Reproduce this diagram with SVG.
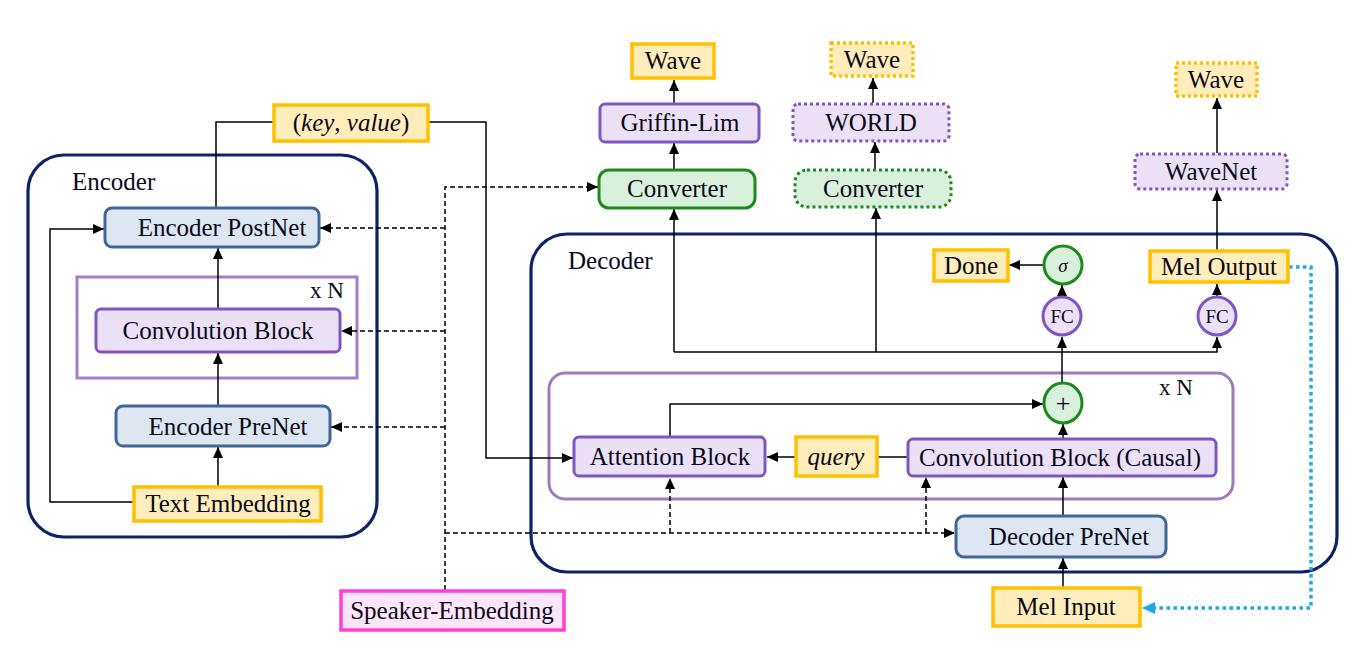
<svg xmlns="http://www.w3.org/2000/svg" width="1367" height="655" viewBox="0 0 1367 655" font-family="'Liberation Serif', 'Times New Roman', serif">
<defs>
<style>
text{font-family:'Liberation Serif','Times New Roman',serif;font-size:25px;fill:#0a0a1a}
.c{text-anchor:middle}
.it{font-style:italic}
.frame{fill:none;stroke:#0b2465;stroke-width:3.2}
.rep{fill:none;stroke:#a47fca;stroke-width:3}
.blue{fill:#dde6f1;stroke:#41679a;stroke-width:3}
.purp{fill:#ebe0f5;stroke:#7f57c1;stroke-width:3}
.org{fill:#ffeebb;stroke:#ffc000;stroke-width:3.5}
.grn{fill:#d9f1dc;stroke:#1e8a1e;stroke-width:3}
.mag{fill:#fde6f9;stroke:#ff3fd8;stroke-width:3.5}
.dot{stroke-dasharray:3 3}
.ln{fill:none;stroke:#000;stroke-width:1.5}
.dash{fill:none;stroke:#000;stroke-width:1.5;stroke-dasharray:5 3}
.bl{fill:none;stroke:#1fa8ef;stroke-width:3.5;stroke-dasharray:3.5 3.5}
</style>
<marker id="a" markerUnits="userSpaceOnUse" markerWidth="12" markerHeight="10" refX="11" refY="5" orient="auto">
<path d="M0,0 L11,5 L0,10 z" fill="#000"/>
</marker>
<marker id="b" markerUnits="userSpaceOnUse" markerWidth="14" markerHeight="12" refX="13" refY="6" orient="auto">
<path d="M0,0 L13,6 L0,12 z" fill="#1fa8ef"/>
</marker>
</defs>

<g id="encoder">
<rect class="frame" x="28" y="155" width="349" height="382" rx="36"/>
<text x="72" y="190">Encoder</text>
</g>
<g id="encoder-repeat">
<rect class="rep" x="77" y="277" width="280" height="101"/>
<text x="310" y="298" style="font-size:23px">x N</text>
</g>
<g id="decoder">
<rect class="frame" x="531" y="234" width="806" height="338" rx="36"/>
<text x="568" y="269">Decoder</text>
</g>
<g id="decoder-repeat">
<rect class="rep" x="549" y="373" width="684" height="126" rx="16" style="stroke:#9d7bbf"/>
<text x="1159" y="395" style="font-size:23px">x N</text>
</g>

<g id="connectors">
<path class="ln" d="M218,486 V447" marker-end="url(#a)"/>
<path class="ln" d="M218,406 V353" marker-end="url(#a)"/>
<path class="ln" d="M218,309 V248" marker-end="url(#a)"/>
<path class="ln" d="M133,502 H50 V229 H104" marker-end="url(#a)"/>
<path class="ln" d="M216,208 V122 H273"/>
<path class="ln" d="M428,122 H486 V458 H573" marker-end="url(#a)"/>
<path class="dash" d="M445,590 V187 H598" marker-end="url(#a)"/>
<path class="dash" d="M445,228 H320" marker-end="url(#a)"/>
<path class="dash" d="M445,331 H341" marker-end="url(#a)"/>
<path class="dash" d="M445,427 H331" marker-end="url(#a)"/>
<path class="dash" d="M445,533 H955" marker-end="url(#a)"/>
<path class="dash" d="M670,533 V478" marker-end="url(#a)"/>
<path class="dash" d="M926,533 V477" marker-end="url(#a)"/>
<path class="ln" d="M674,170 V143" marker-end="url(#a)"/>
<path class="ln" d="M674,104 V80" marker-end="url(#a)"/>
<path class="ln" d="M875,170 V142" marker-end="url(#a)"/>
<path class="ln" d="M873,103 V78" marker-end="url(#a)"/>
<path class="ln" d="M1217,250 V190" marker-end="url(#a)"/>
<path class="ln" d="M1217,153 V98" marker-end="url(#a)"/>
<path class="ln" d="M674,352 V209" marker-end="url(#a)"/>
<path class="ln" d="M876,352 V208" marker-end="url(#a)"/>
<path class="ln" d="M674,352 H1217 V337" marker-end="url(#a)"/>
<path class="ln" d="M1062,383 V337" marker-end="url(#a)"/>
<path class="ln" d="M1062,296 V285" marker-end="url(#a)"/>
<path class="ln" d="M1044,265 H1009" marker-end="url(#a)"/>
<path class="ln" d="M1217,296 V284" marker-end="url(#a)"/>
<path class="ln" d="M1063,587 V558" marker-end="url(#a)"/>
<path class="ln" d="M1063,516 V477" marker-end="url(#a)"/>
<path class="ln" d="M1063,438 V424" marker-end="url(#a)"/>
<path class="ln" d="M670,437 V404 H1043" marker-end="url(#a)"/>
<path class="ln" d="M908,457 H878"/>
<path class="ln" d="M795,457 H767" marker-end="url(#a)"/>
<path class="bl" d="M1289,267 H1311 V608 H1142" marker-end="url(#b)"/>
</g>

<g id="encoder-postnet"><rect class="blue" x="105" y="208" width="214" height="39" rx="7"/><text class="c" x="222" y="236">Encoder PostNet</text></g>
<g id="convolution-block"><rect class="purp" x="96" y="309" width="244" height="43" rx="5"/><text class="c" x="218" y="339">Convolution Block</text></g>
<g id="encoder-prenet"><rect class="blue" x="116" y="406" width="214" height="40" rx="7"/><text class="c" x="228" y="435">Encoder PreNet</text></g>
<g id="text-embedding"><rect class="org" x="134" y="487" width="187" height="34"/><text class="c" x="228" y="512">Text Embedding</text></g>
<g id="key-value"><rect class="org" x="274" y="105" width="154" height="36"/><text class="c" x="351" y="131">(<tspan class="it">key</tspan>, <tspan class="it">value</tspan>)</text></g>
<g id="speaker-embedding"><rect class="mag" x="341" y="591" width="223" height="39"/><text class="c" x="452" y="619">Speaker-Embedding</text></g>

<g id="wave-1"><rect class="org" x="632" y="44" width="82" height="34"/><text class="c" x="673" y="69">Wave</text></g>
<g id="griffin-lim"><rect class="purp" x="600" y="104" width="159" height="38" rx="5"/><text class="c" x="680" y="131">Griffin-Lim</text></g>
<g id="converter-1"><rect class="grn" x="599" y="170" width="156" height="38" rx="10"/><text class="c" x="677" y="197">Converter</text></g>

<g id="wave-2"><rect class="org dot" x="831" y="43" width="82" height="33"/><text class="c" x="872" y="68">Wave</text></g>
<g id="world"><rect class="purp dot" x="793" y="104" width="156" height="37" rx="5"/><text class="c" x="871" y="131">WORLD</text></g>
<g id="converter-2"><rect class="grn dot" x="795" y="170" width="156" height="37" rx="12"/><text class="c" x="873" y="197">Converter</text></g>

<g id="wave-3"><rect class="org dot" x="1176" y="63" width="81" height="33"/><text class="c" x="1216" y="88">Wave</text></g>
<g id="wavenet"><rect class="purp dot" x="1135" y="154" width="152" height="35" rx="5"/><text class="c" x="1211" y="180">WaveNet</text></g>
<g id="mel-output"><rect class="org" x="1150" y="251" width="138" height="31"/><text class="c" x="1219" y="275">Mel Output</text></g>

<g id="done"><rect class="org" x="934" y="250" width="74" height="31"/><text class="c" x="971" y="274">Done</text></g>
<g id="sigma"><circle class="grn" cx="1063" cy="265" r="19"/><text class="c it" x="1063" y="272" style="font-size:19px">σ</text></g>
<g id="fc-1"><circle class="purp" cx="1062" cy="316" r="19"/><text class="c" x="1062" y="323" style="font-size:19px">FC</text></g>
<g id="fc-2"><circle class="purp" cx="1217" cy="316" r="19"/><text class="c" x="1217" y="323" style="font-size:19px">FC</text></g>

<g id="plus"><ellipse class="grn" cx="1063" cy="403" rx="19" ry="20"/><text class="c" x="1063" y="412" style="font-size:26px">+</text></g>
<g id="attention-block"><rect class="purp" x="574" y="437" width="191" height="39" rx="5"/><text class="c" x="670" y="465">Attention Block</text></g>
<g id="query"><rect class="org" x="796" y="437" width="81" height="39"/><text class="c it" x="836" y="465">query</text></g>
<g id="convolution-block-causal"><rect class="purp" x="908" y="439" width="308" height="37" rx="5"/><text class="c" x="1060" y="466">Convolution Block (Causal)</text></g>
<g id="decoder-prenet"><rect class="blue" x="956" y="516" width="210" height="41" rx="8"/><text class="c" x="1069" y="545">Decoder PreNet</text></g>
<g id="mel-input"><rect class="org" x="993" y="588" width="147" height="38"/><text class="c" x="1066" y="615">Mel Input</text></g>
</svg>
